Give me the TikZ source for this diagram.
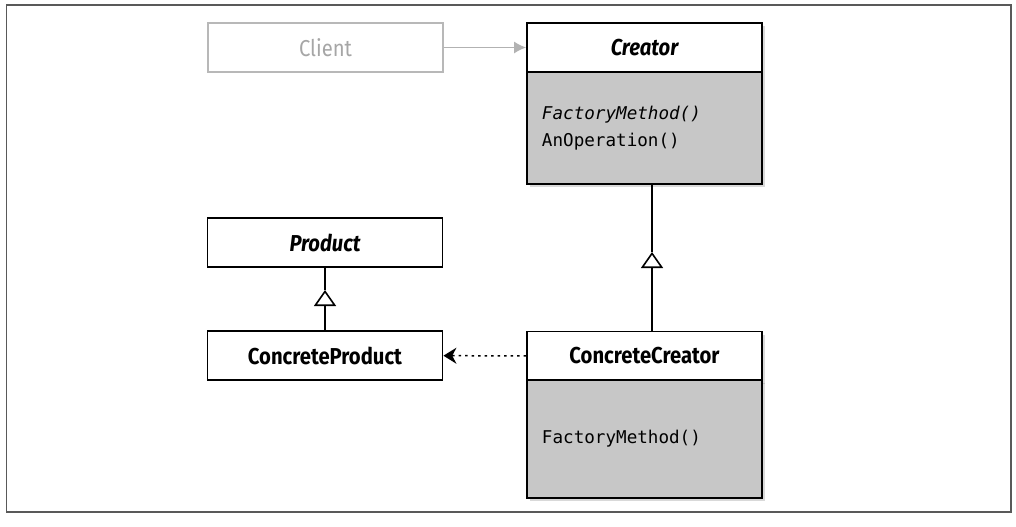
\documentclass[tikz,border=0pt]{standalone}
\usepackage{fontspec}
\usepackage{tikz}
\usetikzlibrary{arrows.meta,shadows}
\newfontfamily\umlsans[FakeStretch=0.88]{Fira Sans}
\newfontfamily\umlmono{DejaVu Sans Mono}

\begin{document}
\begin{tikzpicture}[scale=0.3514]
\tikzstyle{every node}+=[inner sep=0pt]
\tikzstyle{umlshadow}=[drop shadow={shadow xshift=3pt, shadow yshift=-3pt, opacity=0.3}]
\tikzstyle{classname}=[draw=black, line width=1.8pt, fill=white, minimum width=235pt, minimum height=49pt, font=\umlsans\bfseries\fontsize{23}{27}\selectfont]
\tikzstyle{classbody}=[draw=black, line width=1.8pt, fill=black!22, minimum width=235pt, text width=205pt, align=left, font=\umlmono\fontsize{17.6}{27}\selectfont]
\tikzstyle{inherit}=[line width=1.5pt, -{Triangle[open, length=16pt, width=22pt, line width=1.6pt]}]
\useasboundingbox (0,0) rectangle (101.6,-52.6);
\draw [black!65, line width=1.3pt] (0.65,-0.5) rectangle (101.1,-51.2);
% classes
\node [classname, draw=black!28, line width=1.3pt, text=black!35, font=\umlsans\fontsize{23}{27}\selectfont] (client) at (32.55,-4.75) {Client};
\node [classname, umlshadow] (creator) at (64.45,-4.75) {\itshape Creator};
\node [classbody, umlshadow, minimum height=112pt] (creatorbody) at (64.45,-12.8) {{\itshape FactoryMethod()}\\AnOperation()};
\node [classname] (product) at (32.5,-24.25) {\itshape Product};
\node [classname] (cproduct) at (32.5,-35.55) {ConcreteProduct};
\node [classname, umlshadow] (ccreator) at (64.45,-35.6) {ConcreteCreator};
\node [classbody, umlshadow, minimum height=118pt] (ccreatorbody) at (64.45,-43.9) {FactoryMethod()};
% links
\coordinate (crtip) at (65.2,-25.2);
\coordinate (prtip) at (32.5,-29.0);
\draw [inherit] (ccreator.north -| crtip) -- (crtip);
\draw [line width=1.5pt] (crtip) -- (creatorbody.south -| crtip);
\draw [inherit] (cproduct.north -| prtip) -- (prtip);
\draw [line width=1.5pt] (prtip) -- (product.south -| prtip);
\draw [line width=1.5pt, dash pattern=on 2.5pt off 4pt, -{Stealth[length=13pt, width=16pt]}] (ccreator) -- (cproduct);
\draw [black!30, line width=1.3pt, -{Latex[length=12pt, width=12pt]}] (client) -- (creator);
\end{tikzpicture}
\end{document}
